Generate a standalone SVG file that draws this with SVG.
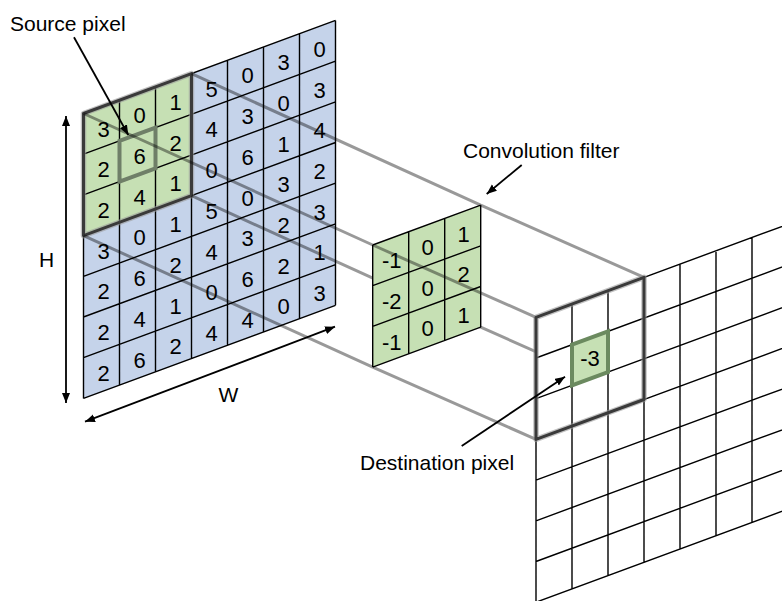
<svg xmlns="http://www.w3.org/2000/svg" width="782" height="601" viewBox="0 0 782 601">
  <defs>
    <marker id="head" markerUnits="userSpaceOnUse" markerWidth="11" markerHeight="9" refX="10" refY="4" orient="auto-start-reverse">
      <path d="M0,0 L10,4 L0,8 z" fill="#000"/>
    </marker>
    <style>
      .grid { fill: none; stroke: #000; stroke-width: 1.4; }
      .num { font-family: "Liberation Sans", Arial, sans-serif; font-size: 22px; fill: #000; text-anchor: middle; }
      .label { font-family: "Liberation Sans", Arial, sans-serif; font-size: 21px; fill: #000; }
      .proj { stroke: #000; stroke-opacity: 0.4; stroke-width: 3; fill: none; }
      .arrow { stroke: #000; stroke-width: 1.8; fill: none; marker-end: url(#head); }
      .dbl { marker-start: url(#head); }
      .frame-halo { fill: none; stroke: #999; stroke-opacity: 0.6; stroke-width: 5.5; stroke-linejoin: round; }
      .frame { fill: none; stroke: #3a3a3a; stroke-width: 3; stroke-linejoin: round; }
      .blue { fill: #c5d3ea; }
      .green { fill: #c6e0b4; }
    </style>
  </defs>

  <!-- input image, 7 x 7 -->
  <g id="source-image">
    <polygon class="blue" points="83.5,113.5 335.5,20.4 335.5,305.3 83.5,398.4"/>
    <polygon class="green" points="83.5,113.5 191.5,73.6 191.5,195.7 83.5,235.6"/>
    <path class="grid" d="M83.5,113.5V398.4 M119.5,100.2V385.1 M155.5,86.9V371.8 M191.5,73.6V358.5 M227.5,60.3V345.2 M263.5,47.0V331.9 M299.5,33.7V318.6 M335.5,20.4V305.3
      M83.5,113.5L335.5,20.4 M83.5,154.2L335.5,61.1 M83.5,194.9L335.5,101.8 M83.5,235.6L335.5,142.5 M83.5,276.3L335.5,183.2 M83.5,317.0L335.5,223.9 M83.5,357.7L335.5,264.6 M83.5,398.4L335.5,305.3"/>
    <g class="num">
      <text x="103.5" y="136.6">3</text><text x="103.5" y="177.3">2</text><text x="103.5" y="218.0">2</text><text x="103.5" y="258.7">3</text><text x="103.5" y="299.4">2</text><text x="103.5" y="340.1">2</text><text x="103.5" y="380.8">2</text>
      <text x="139.5" y="123.3">0</text><text x="139.5" y="164.0">6</text><text x="139.5" y="204.7">4</text><text x="139.5" y="245.4">0</text><text x="139.5" y="286.1">6</text><text x="139.5" y="326.8">4</text><text x="139.5" y="367.5">6</text>
      <text x="175.5" y="110.0">1</text><text x="175.5" y="150.7">2</text><text x="175.5" y="191.4">1</text><text x="175.5" y="232.1">1</text><text x="175.5" y="272.8">2</text><text x="175.5" y="313.5">1</text><text x="175.5" y="354.2">2</text>
      <text x="211.5" y="96.7">5</text><text x="211.5" y="137.4">4</text><text x="211.5" y="178.1">0</text><text x="211.5" y="218.8">5</text><text x="211.5" y="259.5">4</text><text x="211.5" y="300.2">0</text><text x="211.5" y="340.9">4</text>
      <text x="247.5" y="83.4">0</text><text x="247.5" y="124.1">3</text><text x="247.5" y="164.8">6</text><text x="247.5" y="205.5">0</text><text x="247.5" y="246.2">3</text><text x="247.5" y="286.9">6</text><text x="247.5" y="327.6">4</text>
      <text x="283.5" y="70.1">3</text><text x="283.5" y="110.8">0</text><text x="283.5" y="151.5">1</text><text x="283.5" y="192.2">3</text><text x="283.5" y="232.9">2</text><text x="283.5" y="273.6">2</text><text x="283.5" y="314.3">0</text>
      <text x="319.5" y="56.8">0</text><text x="319.5" y="97.5">3</text><text x="319.5" y="138.2">4</text><text x="319.5" y="178.9">2</text><text x="319.5" y="219.6">3</text><text x="319.5" y="260.3">1</text><text x="319.5" y="301.0">3</text>
    </g>
    <!-- 3 x 3 window and its centre pixel -->
    <polygon class="frame-halo" points="83.5,113.5 191.5,73.6 191.5,195.7 83.5,235.6"/>
    <polygon class="frame" points="83.5,113.5 191.5,73.6 191.5,195.7 83.5,235.6"/>
    <polygon fill="none" stroke="#6f7f68" stroke-width="4" points="119.5,140.9 155.5,127.6 155.5,168.3 119.5,181.6"/>
  </g>

  <!-- projection lines passing behind the kernel -->
  <g id="connectors-back">
    <path class="proj" d="M83.5,113.5L372.7,245 M191.5,73.6L480.7,205.1 M83.5,235.6L372.7,367.1 M191.5,195.7L480.7,327.2
      M480.7,205.1L644,277.4 M372.7,367.1L536,439.4 M480.7,327.2L644,399.5"/>
  </g>

  <!-- 3 x 3 kernel -->
  <g id="filter">
    <polygon class="green" points="372.7,245 480.7,205.1 480.7,327.2 372.7,367.1"/>
    <path class="grid" d="M372.7,245V367.1 M408.7,231.7V353.8 M444.7,218.4V340.5 M480.7,205.1V327.2
      M372.7,245L480.7,205.1 M372.7,285.7L480.7,245.8 M372.7,326.4L480.7,286.5 M372.7,367.1L480.7,327.2"/>
    <g class="num">
      <text x="391.7" y="268.1">-1</text><text x="391.7" y="308.8">-2</text><text x="391.7" y="349.5">-1</text>
      <text x="427.7" y="254.8">0</text><text x="427.7" y="295.5">0</text><text x="427.7" y="336.2">0</text>
      <text x="463.7" y="241.5">1</text><text x="463.7" y="282.2">2</text><text x="463.7" y="322.9">1</text>
    </g>
  </g>

  <!-- projection line drawn across the kernel -->
  <g id="connectors-front">
    <path class="proj" d="M372.7,245L536,317.3"/>
  </g>

  <!-- output image, 7 x 7 (clipped at the right) -->
  <g id="destination-image">
    <polygon fill="#fff" points="536,317.3 788,224.2 788,509.1 536,602.2"/>
    <path class="grid" d="M536,317.3V602.2 M572,304.0V588.9 M608,290.7V575.6 M644,277.4V562.3 M680,264.1V549.0 M716,250.8V535.7 M752,237.5V522.4 M788,224.2V509.1
      M536,317.3L788,224.2 M536,358.0L788,264.9 M536,398.7L788,305.6 M536,439.4L788,346.3 M536,480.1L788,387.0 M536,520.8L788,427.7 M536,561.5L788,468.4 M536,602.2L788,509.1"/>
    <polygon class="frame-halo" points="536,317.3 644,277.4 644,399.5 536,439.4"/>
    <polygon class="frame" points="536,317.3 644,277.4 644,399.5 536,439.4"/>
    <polygon class="green" stroke="#6b8a5f" stroke-width="4" points="572,344.7 608,331.4 608,372.1 572,385.4"/>
    <text class="num" x="590" y="366.4">-3</text>
  </g>

  <!-- dimension arrows -->
  <g id="height-arrow">
    <path class="arrow dbl" d="M66,116V403"/>
    <text class="label" x="46.5" y="267" text-anchor="middle">H</text>
  </g>
  <g id="width-arrow">
    <path class="arrow dbl" d="M85,421.7L335,326.7"/>
    <text class="label" x="228.5" y="402" text-anchor="middle">W</text>
  </g>

  <!-- callouts -->
  <g id="source-pixel-label">
    <text class="label" x="10" y="31">Source pixel</text>
    <path class="arrow" d="M74,37.3L128.3,135"/>
  </g>
  <g id="filter-label">
    <text class="label" x="463" y="158">Convolution filter</text>
    <path class="arrow" d="M521.7,165L486.7,194"/>
  </g>
  <g id="destination-pixel-label">
    <text class="label" x="360" y="470">Destination pixel</text>
    <path class="arrow" d="M461.7,446L565,376.7"/>
  </g>
</svg>
